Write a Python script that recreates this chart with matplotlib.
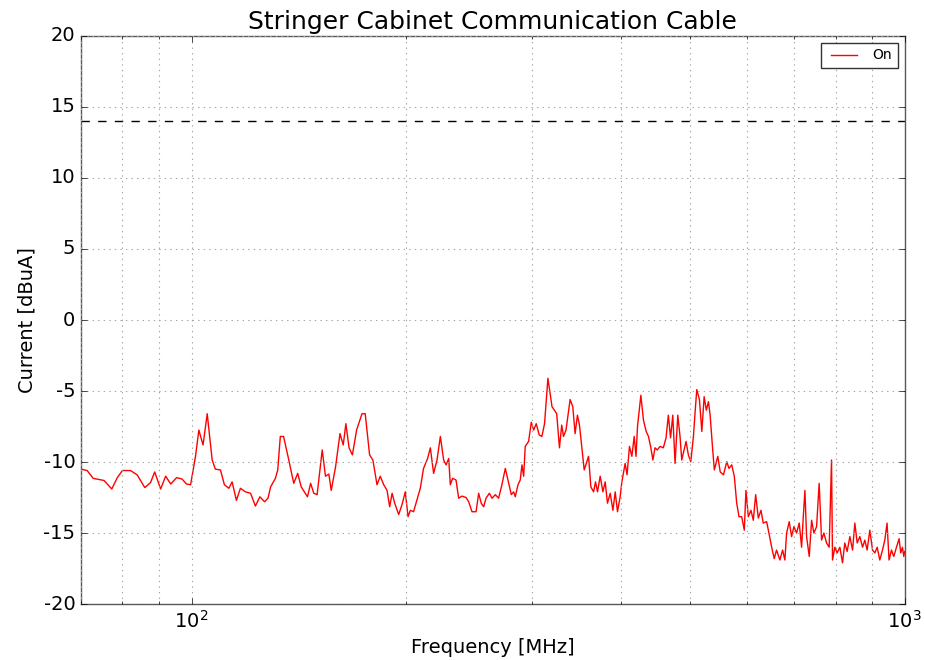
import matplotlib
matplotlib.use("Agg")
import matplotlib.pyplot as plt
import numpy as np

# Measured current on the stringer cabinet communication cable
freq_mhz = [
    70.0, 71.4, 72.8, 75.4, 77.3, 78.7, 80.0, 82.1, 83.9, 86.0,
    87.6, 88.8, 90.5, 92.0, 93.5, 95.3, 97.0, 98.4, 99.7, 101.3,
    102.4, 103.8, 105.2, 106.9, 108.0, 109.8, 111.2, 112.8, 114.0, 115.6,
    117.1, 119.0, 121.0, 122.9, 124.7, 126.6, 128.0, 129.1, 131.1, 132.1,
    133.2, 134.6, 136.9, 139.1, 140.9, 142.5, 145.4, 146.9, 148.4, 150.0,
    152.5, 154.1, 155.8, 157.0, 159.2, 161.5, 163.2, 164.6, 166.3, 168.1,
    170.4, 173.4, 175.2, 177.7, 179.6, 182.0, 183.9, 186.0, 188.0, 189.6,
    191.1, 192.7, 195.2, 197.3, 199.4, 201.2, 202.7, 204.8, 207.0, 209.3,
    211.5, 214.3, 216.2, 218.5, 220.9, 223.3, 225.7, 227.5, 229.4, 230.6,
    232.3, 234.9, 236.9, 239.5, 242.6, 244.7, 247.3, 250.6, 252.7, 254.8,
    256.8, 258.8, 261.6, 263.8, 266.7, 269.5, 272.4, 275.4, 277.8, 280.8,
    282.9, 284.4, 286.9, 289.0, 290.6, 292.2, 293.7, 296.9, 299.5, 301.8,
    304.3, 307.3, 309.9, 312.6, 316.0, 320.2, 325.1, 328.0, 330.4, 332.3,
    335.0, 339.5, 342.4, 345.0, 347.6, 349.9, 352.6, 355.3, 360.3, 363.0,
    366.2, 368.5, 370.9, 374.1, 377.4, 380.2, 383.0, 386.4, 389.8, 392.7,
    395.6, 399.0, 401.2, 405.5, 408.0, 411.2, 414.4, 417.5, 420.0, 422.0,
    426.6, 430.2, 434.0, 437.2, 440.6, 443.5, 446.5, 449.8, 453.9, 458.7,
    462.7, 466.2, 469.5, 472.9, 476.4, 480.6, 484.1, 486.8, 490.4, 493.6,
    497.3, 501.2, 505.5, 508.3, 511.0, 515.4, 519.4, 523.3, 527.0, 530.6,
    533.5, 537.5, 540.8, 546.9, 551.2, 557.0, 563.0, 567.0, 572.0, 576.8,
    581.3, 585.6, 590.7, 595.7, 598.9, 603.5, 608.7, 613.3, 618.0, 623.3,
    628.7, 633.3, 640.3, 647.2, 652.0, 656.2, 661.0, 668.3, 674.1, 679.1,
    682.9, 688.7, 694.0, 699.2, 705.3, 711.3, 716.8, 720.7, 724.5, 728.4,
    734.7, 740.3, 745.8, 752.3, 758.6, 764.5, 770.2, 776.9, 783.5, 789.5,
    792.0, 798.0, 804.0, 811.0, 818.0, 824.0, 830.3, 837.6, 845.0, 851.2,
    857.7, 865.0, 872.7, 879.1, 885.7, 893.4, 901.3, 908.0, 914.8, 922.6,
    930.7, 937.6, 944.5, 950.6, 958.0, 965.2, 973.6, 981.9, 987.2, 992.7,
    996.8, 1000.0,
]
current_on = [
    -10.5, -10.6, -11.15, -11.3, -11.9, -11.1, -10.6, -10.6, -10.9, -11.8,
    -11.45, -10.7, -11.9, -11.0, -11.55, -11.1, -11.2, -11.55, -11.6, -9.6,
    -7.75, -8.8, -6.6, -9.86, -10.5, -10.56, -11.6, -11.85, -11.4, -12.7,
    -11.85, -12.1, -12.2, -13.1, -12.45, -12.8, -12.55, -11.75, -11.15, -10.56,
    -8.2, -8.2, -9.86, -11.5, -10.8, -11.75, -12.45, -11.5, -12.2, -12.3,
    -9.15, -11.0, -10.85, -12.0, -10.35, -8.0, -8.8, -7.3, -9.0, -9.5,
    -7.75, -6.6, -6.6, -9.5, -9.86, -11.6, -11.0, -11.6, -12.0, -13.15,
    -12.2, -12.9, -13.7, -13.0, -12.1, -13.85, -13.4, -13.5, -12.7, -11.85,
    -10.45, -9.75, -9.0, -10.8, -9.86, -8.2, -9.86, -10.2, -9.75, -11.6,
    -11.15, -11.27, -12.55, -12.4, -12.5, -12.8, -13.5, -13.5, -12.2, -12.9,
    -13.15, -12.55, -12.2, -12.55, -12.3, -12.55, -11.6, -10.45, -11.27, -12.3,
    -12.1, -12.45, -11.6, -11.27, -10.2, -11.0, -8.9, -8.55, -7.2, -7.75,
    -7.3, -8.1, -8.2, -7.3, -4.1, -6.1, -6.6, -9.0, -7.4, -8.2,
    -7.75, -5.6, -6.1, -8.0, -6.7, -7.4, -9.0, -10.56, -9.6, -11.75,
    -12.1, -11.4, -12.1, -11.0, -12.1, -11.4, -12.9, -12.2, -13.4, -12.1,
    -13.5, -12.45, -11.4, -10.1, -10.9, -8.9, -9.6, -8.2, -9.6, -7.5,
    -5.3, -7.05, -7.85, -8.2, -9.0, -9.86, -9.0, -9.15, -8.9, -9.0,
    -8.3, -6.7, -8.3, -6.7, -10.1, -6.7, -8.2, -9.86, -9.15, -8.55,
    -9.5, -9.98, -8.2, -6.45, -4.9, -5.6, -7.85, -5.4, -6.35, -5.75,
    -6.7, -8.9, -10.56, -9.6, -10.7, -10.9, -9.98, -10.45, -10.2, -11.0,
    -12.9, -13.85, -13.85, -14.8, -12.0, -13.85, -13.4, -14.1, -12.3, -13.95,
    -13.4, -14.3, -14.2, -15.4, -16.2, -16.8, -16.2, -16.9, -16.2, -16.9,
    -15.0, -14.2, -15.25, -14.55, -15.0, -14.3, -16.0, -13.85, -12.0, -15.25,
    -16.65, -14.1, -15.0, -14.55, -11.5, -15.5, -15.0, -15.7, -16.0, -9.86,
    -16.9, -16.0, -16.4, -16.0, -17.1, -15.7, -16.3, -15.25, -16.2, -14.3,
    -15.7, -15.25, -16.0, -15.5, -16.2, -14.8, -16.2, -16.4, -16.0, -16.9,
    -16.2, -15.5, -14.3, -16.9, -16.2, -16.65, -16.0, -15.4, -16.4, -16.0,
    -16.65, -16.3,
]
limit_level = 14.0
y_ticks = [-20, -15, -10, -5, 0, 5, 10, 15, 20]


def main() -> None:
    plt.style.use("classic")
    plt.rcParams["axes.unicode_minus"] = False
    fig = plt.figure(figsize=(9.25, 6.6), dpi=100, facecolor="white")
    ax = fig.add_axes([0.0876, 0.0848, 0.8905, 0.8607])
    ax.set_facecolor("white")

    ax.semilogx(freq_mhz, current_on, color="red", linewidth=1.0, label="On")
    ax.axhline(limit_level, color="black", linestyle="--", linewidth=1.0)

    ax.set_xlim(70, 1000)
    ax.set_ylim(-20, 20)
    ax.set_yticks(y_ticks)

    ax.grid(True, which="major", color="0.65", linestyle=":", linewidth=0.8)
    ax.grid(True, which="minor", axis="x", color="0.65", linestyle=":", linewidth=0.8)

    ax.set_title("Stringer Cabinet Communication Cable", fontsize=18)
    ax.set_xlabel("Frequency [MHz]", fontsize=14)
    ax.set_ylabel("Current [dBuA]", fontsize=14)
    ax.tick_params(axis="both", which="major", labelsize=14)

    for spine in ax.spines.values():
        spine.set_color("0.35")

    leg = ax.legend(loc="upper right", fontsize=10, handlelength=2.5,
                    fancybox=False)
    leg.get_frame().set_edgecolor("0.2")

    fig.savefig("out.png", dpi=100, facecolor="white")
    plt.close(fig)


if __name__ == "__main__":
    main()
